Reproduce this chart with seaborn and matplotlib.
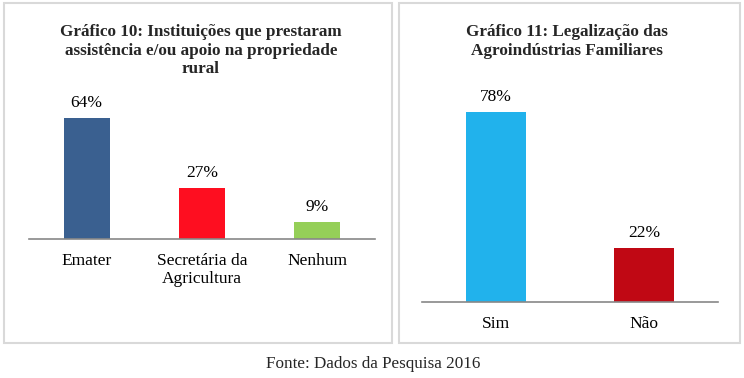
import matplotlib
matplotlib.use("Agg")
import matplotlib.pyplot as plt
import seaborn as sns
import pandas as pd
from matplotlib.patches import Rectangle

# Data
cats10 = ["Emater", "Secretária da\nAgricultura", "Nenhum"]
vals10 = [64, 27, 9]
colors10 = ["#3A6090", "#FE0E20", "#95CF58"]
title10 = "Gráfico 10: Instituições que prestaram\nassistência e/ou apoio na propriedade\nrural"

cats11 = ["Sim", "Não"]
vals11 = [78, 22]
colors11 = ["#21B2EC", "#C00814"]
title11 = "Gráfico 11: Legalização das\nAgroindústrias Familiares"

caption = "Fonte: Dados da Pesquisa 2016"

sns.set_style("white")
plt.rcParams["font.family"] = ["Liberation Serif", "DejaVu Serif"]

W, H = 744, 378
fig = plt.figure(figsize=(W / 100, H / 100), dpi=100)

def fx(px):
    return px / W

def fy(py):
    return 1 - py / H

# Panel borders
for (x0, y0, x1, y1) in [(4, 3, 392, 343), (399, 3, 740, 343)]:
    fig.add_artist(Rectangle((fx(x0), fy(y1)), fx(x1 - x0), (y1 - y0) / H,
                             transform=fig.transFigure, fill=False,
                             edgecolor="#D9D9D9", linewidth=1.5))

def draw(ax, cats, vals, colors, ymax):
    df = pd.DataFrame({"cat": cats, "val": vals})
    sns.barplot(data=df, x="cat", y="val", hue="cat", palette=colors,
                order=cats, hue_order=cats, legend=False, width=0.4,
                saturation=1, dodge=False, linewidth=0, ax=ax)
    ax.set_xlim(-0.5, len(cats) - 0.5)
    ax.set_ylim(0, ymax)
    for patch in ax.patches:
        h = patch.get_height()
        if h and h > 0:
            ax.annotate(f"{h:.0f}%", (patch.get_x() + patch.get_width() / 2, h),
                        xytext=(0, 5), textcoords="offset points",
                        ha="center", va="bottom", fontsize=12.5, color="#000000")
    ax.set_xlabel("")
    ax.set_ylabel("")
    ax.set_yticks([])
    for s in ["top", "right", "left"]:
        ax.spines[s].set_visible(False)
    ax.spines["bottom"].set_color("#888888")
    ax.spines["bottom"].set_linewidth(1.2)
    ax.tick_params(axis="x", length=0, pad=10, labelsize=12.5, colors="#000000")
    for t in ax.get_xticklabels():
        t.set_linespacing(1.15)
    ax.patch.set_alpha(0)

# Left chart: baseline y=239, x 29..375, 1.89 px per %
ymax10 = 70
hpx10 = ymax10 * 1.89
ax1 = fig.add_axes([fx(29), fy(239), fx(375 - 29), hpx10 / H])
draw(ax1, cats10, vals10, colors10, ymax10)

# Right chart: baseline y=302, x 422..718, 2.44 px per %
ymax11 = 85
hpx11 = ymax11 * 2.44
ax2 = fig.add_axes([fx(422), fy(302), fx(718 - 422), hpx11 / H])
draw(ax2, cats11, vals11, colors11, ymax11)

fig.text(fx(201), fy(24), title10, ha="center", va="top", fontsize=12.3,
         fontweight="bold", linespacing=1.22)
fig.text(fx(567), fy(24), title11, ha="center", va="top", fontsize=12.3,
         fontweight="bold", linespacing=1.22)

fig.text(fx(373), fy(364), caption, ha="center", va="center", fontsize=12.3)

fig.savefig("out.png", dpi=100, facecolor="white")
